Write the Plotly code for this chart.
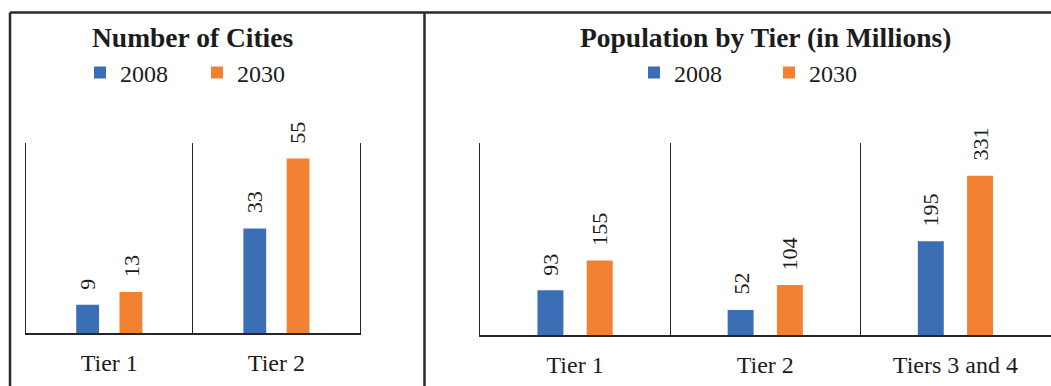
import plotly.graph_objects as go

# Number of cities per tier
city_tiers = ["Tier 1", "Tier 2"]
cities_2008 = [9, 33]
cities_2030 = [13, 55]

# Population per tier, in millions
pop_tiers = ["Tier 1", "Tier 2", "Tiers 3 and 4"]
pop_2008 = [93, 52, 195]
pop_2030 = [155, 104, 331]

years = ["2008", "2030"]

W, H = 1051, 386
BLUE = "#3A6FB6"
ORANGE = "#F28132"
INK = "#1C1C1C"
LINE = "#262626"
FONT = "Liberation Serif"
BARGAP = 0.482
GROUPGAP = 0.473


def fx(px):
    return px / W


def fy(py):
    return 1 - py / H


fig = go.Figure()

panels = [
    ("x", "y", "legend", city_tiers, [cities_2008, cities_2030]),
    ("x2", "y2", "legend2", pop_tiers, [pop_2008, pop_2030]),
]

annotations = []
for xa, ya, leg, cats, series in panels:
    for k, (year, vals, color) in enumerate(zip(years, series, [BLUE, ORANGE])):
        fig.add_trace(go.Bar(
            x=cats, y=vals, name=year, marker_color=color,
            marker_line_width=0, xaxis=xa, yaxis=ya, legend=leg,
            hoverinfo="skip",
        ))
        # value labels, rotated, above each bar of the group
        offset = (2 * k - 1) * (1 - BARGAP) / 4
        for i, v in enumerate(vals):
            annotations.append(dict(
                x=i + offset, y=v, xref=xa, yref=ya, text=str(v),
                textangle=-90, showarrow=False, xanchor="center",
                yanchor="bottom", yshift=13,
                font=dict(family=FONT, size=22, color=INK),
            ))

titles = [("x", "Number of Cities"), ("x2", "Population by Tier (in Millions)")]
for xa, title in titles:
    annotations.append(dict(
        x=0.5, xref=f"{xa} domain", y=fy(37.5), yref="paper",
        text=f"<b>{title}</b>", showarrow=False, xanchor="center",
        yanchor="middle", font=dict(family=FONT, size=27.5, color=INK),
    ))

xaxis_style = dict(
    type="category", ticks="", tickson="boundaries", showgrid=True,
    gridcolor=LINE, gridwidth=1.3, showline=True, linecolor=LINE,
    linewidth=1.5, zeroline=False, fixedrange=True,
    tickfont=dict(family=FONT, size=24, color=INK), ticklabelstandoff=7,
)
yaxis_style = dict(
    showticklabels=False, showgrid=False, zeroline=False, showline=True,
    mirror=True, linecolor=LINE, linewidth=1.3, ticks="", fixedrange=True,
)

legend_style = dict(
    orientation="h", yanchor="middle", y=fy(73), xanchor="left",
    bgcolor="rgba(0,0,0,0)", font=dict(family=FONT, size=24, color=INK),
    itemwidth=30, itemclick=False, itemdoubleclick=False,
    entrywidthmode="pixels",
)

frame = dict(type="line", xref="paper", yref="paper",
             line=dict(color="#2A2A2A", width=2.5))
shapes = [
    dict(frame, x0=fx(10), x1=1, y0=fy(12.5), y1=fy(12.5)),
    dict(frame, x0=fx(10), x1=fx(10), y0=fy(12.5), y1=0),
    dict(frame, x0=fx(424.5), x1=fx(424.5), y0=fy(12.5), y1=0),
]

fig.update_layout(
    width=W, height=H, margin=dict(l=0, r=0, t=0, b=0),
    paper_bgcolor="white", plot_bgcolor="white",
    barmode="group", bargap=BARGAP, bargroupgap=GROUPGAP,
    font=dict(family=FONT, color=INK),
    xaxis=dict(xaxis_style, domain=[fx(25.7), fx(360)], anchor="y"),
    yaxis=dict(yaxis_style, domain=[fy(333.3), fy(142.7)], range=[0, 60], anchor="x"),
    xaxis2=dict(xaxis_style, domain=[fx(480), fx(1050.5)], anchor="y2"),
    yaxis2=dict(yaxis_style, domain=[fy(335), fy(142.7)], range=[0, 400], anchor="x2"),
    legend=dict(legend_style, x=fx(80), entrywidth=72),
    legend2=dict(legend_style, x=fx(634), entrywidth=90),
    annotations=annotations,
    shapes=shapes,
    showlegend=True,
)

fig.write_html("out.html", config={"displayModeBar": False})
